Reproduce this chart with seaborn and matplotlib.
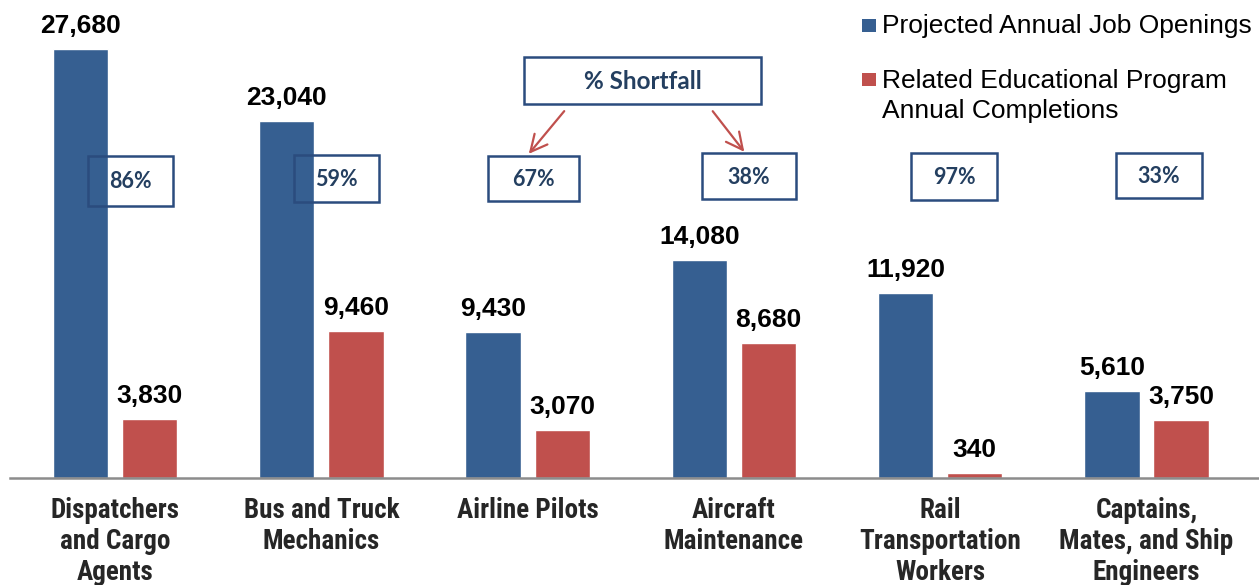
import matplotlib
matplotlib.use("Agg")
import matplotlib.pyplot as plt
from matplotlib.patches import Rectangle, FancyArrowPatch
import pandas as pd
import seaborn as sns

categories = [
    "Dispatchers\nand Cargo\nAgents",
    "Bus and Truck\nMechanics",
    "Airline Pilots",
    "Aircraft\nMaintenance",
    "Rail\nTransportation\nWorkers",
    "Captains,\nMates, and Ship\nEngineers",
]
job_openings = [27680, 23040, 9430, 14080, 11920, 5610]
completions = [3830, 9460, 3070, 8680, 340, 3750]
series_names = ["Projected Annual Job Openings",
                "Related Educational Program\nAnnual Completions"]
shortfall_title = "% Shortfall"

BLUE = "#365F91"
RED = "#C0504D"
NAVY_EDGE = "#2B4C7E"
NAVY_TEXT = "#243F60"

W, H = 1259, 585
fig = plt.figure(figsize=(W / 100, H / 100), dpi=100)
sns.set_style("white")
plt.rcParams["font.family"] = ["Liberation Sans", "DejaVu Sans"]


def fx(px):
    return px / W


def fy(py):
    return 1 - py / H


ax = fig.add_axes([fx(10), fy(478), fx(W - 10), 478 / H])

df = pd.DataFrame({
    "category": categories * 2,
    "series": [series_names[0]] * len(categories) + [series_names[1]] * len(categories),
    "value": job_openings + completions,
})
sns.barplot(data=df, x="category", y="value", hue="series",
            palette=[BLUE, RED], width=0.67, gap=0.2,
            saturation=1, legend=False, ax=ax)

ax.set_xlim(-0.509, 5.545)
ax.set_ylim(0, 30830)
ax.set_xlabel("")
ax.set_ylabel("")
ax.set_yticks([])
for s in ["top", "right", "left"]:
    ax.spines[s].set_visible(False)
ax.spines["bottom"].set_color("#8C8C8C")
ax.spines["bottom"].set_linewidth(1.8)
ax.tick_params(axis="x", length=0, pad=14)
for lbl in ax.get_xticklabels():
    lbl.set_fontsize(19.5)
    lbl.set_fontweight("bold")
    lbl.set_family(["Roboto Condensed", "DejaVu Sans"])
    lbl.set_va("top")
    lbl.set_linespacing(1.17)

# value labels above bars
for container in ax.containers:
    for bar in container:
        v = bar.get_height()
        ax.annotate(f"{v:,.0f}", (bar.get_x() + bar.get_width() / 2, v),
                    xytext=(0, 11.5), textcoords="offset points",
                    ha="center", va="baseline", fontsize=19,
                    fontweight="bold", color="black")

# shortfall boxes (center x px, center y px, width px, height px)
box_layout = [(130.5, 180.5, 85, 50), (336.5, 178.5, 85, 47),
              (533.5, 178.5, 91, 45), (749, 176, 94, 46),
              (954, 176.5, 86, 47), (1159, 175.5, 86, 45)]
for (cx, cy, bw, bh), jo, co in zip(box_layout, job_openings, completions):
    pct = round(100 * (1 - co / jo))
    fig.patches.append(Rectangle((fx(cx - bw / 2), fy(cy + bh / 2)),
                                 bw / W, bh / H, transform=fig.transFigure,
                                 fill=False, edgecolor=NAVY_EDGE, linewidth=1.8,
                                 zorder=5))
    fig.text(fx(cx), fy(cy + 1), f"{pct}%", ha="center", va="center",
             fontsize=15.5, fontweight="bold", color=NAVY_TEXT,
             family=["Lato", "DejaVu Sans"], zorder=6)

# title box with arrows
fig.patches.append(Rectangle((fx(524), fy(104)), 237 / W, 47 / H,
                             transform=fig.transFigure, fill=False,
                             edgecolor=NAVY_EDGE, linewidth=1.8, zorder=5))
fig.text(fx(642.5), fy(82), shortfall_title, ha="center", va="center",
         fontsize=17.5, fontweight="bold", color=NAVY_TEXT,
         family=["Lato", "DejaVu Sans"], zorder=6)
for (x0, y0), (x1, y1) in [((566, 109), (527, 156)), ((711, 109), (746, 154))]:
    fig.patches.append(FancyArrowPatch((fx(x0), fy(y0)), (fx(x1), fy(y1)),
                                       transform=fig.transFigure,
                                       arrowstyle="->,head_length=12,head_width=6",
                                       color=RED, linewidth=1.6,
                                       mutation_scale=1, zorder=6))

# legend
legend_rows = [(series_names[0], BLUE, 19, 33), (series_names[1], RED, 73, 88)]
for text, col, sq_top, baseline in legend_rows:
    fig.patches.append(Rectangle((fx(862), fy(sq_top + 13)), 14 / W, 13 / H,
                                 transform=fig.transFigure, facecolor=col,
                                 edgecolor="none"))
    lines = text.split("\n")
    for i, line in enumerate(lines):
        fig.text(fx(882), fy(baseline + 30.5 * i), line, ha="left",
                 va="baseline", fontsize=19, color="black")

fig.savefig("out.png", dpi=100)
